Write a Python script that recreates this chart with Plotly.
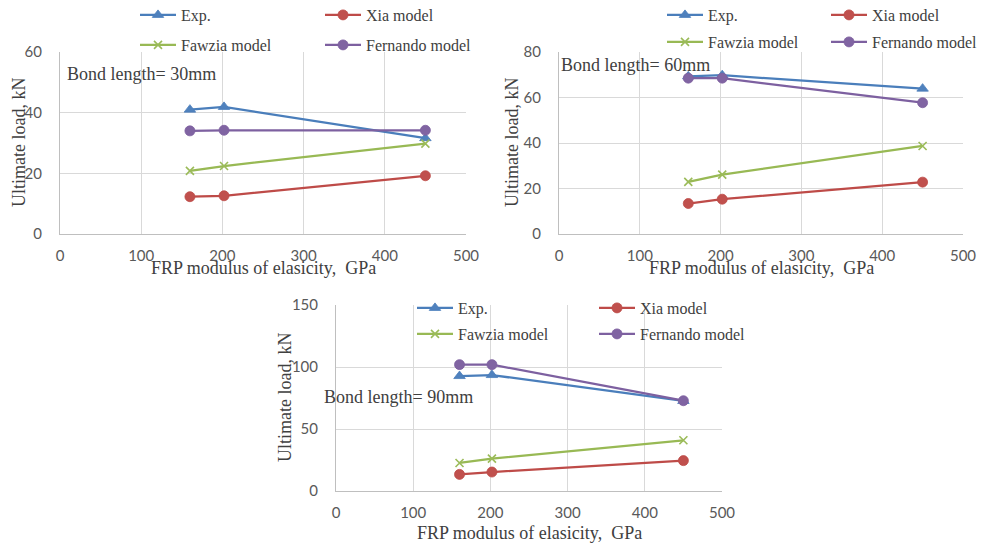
import plotly.graph_objects as go

W, H = 981, 545

modulus_gpa = [160, 202, 450]
series_names = ["Exp.", "Xia model", "Fawzia model", "Fernando model"]

# Bond length = 30 mm
exp_30 = [41.0, 41.9, 31.6]
xia_30 = [12.3, 12.6, 19.2]
fawzia_30 = [20.8, 22.4, 29.8]
fernando_30 = [34.0, 34.2, 34.2]

# Bond length = 60 mm
exp_60 = [69.3, 69.8, 63.9]
xia_60 = [13.4, 15.3, 22.8]
fawzia_60 = [22.9, 26.1, 38.7]
fernando_60 = [68.5, 68.5, 57.7]

# Bond length = 90 mm
exp_90 = [92.7, 93.5, 72.6]
xia_90 = [13.4, 15.3, 24.5]
fawzia_90 = [22.6, 26.1, 40.9]
fernando_90 = [101.9, 101.9, 72.8]

panel_titles = ["Bond length= 30mm", "Bond length= 60mm", "Bond length= 90mm"]
y_ranges = [[0, 60], [0, 80], [0, 150]]
y_dticks = [20, 20, 50]
x_range = [0, 500]
x_dtick = 100
x_title = "FRP modulus of elasicity,\u00a0 GPa"
y_title = "Ultimate load, kN"

panels = [
    [exp_30, xia_30, fawzia_30, fernando_30],
    [exp_60, xia_60, fawzia_60, fernando_60],
    [exp_90, xia_90, fawzia_90, fernando_90],
]

line_colors = ["#4A7EBB", "#BE4B48", "#98B954", "#7D60A0"]
marker_colors = ["#4F81BD", "#C0504D", "#9BBB59", "#8064A2"]
symbols = ["triangle-up", "circle", "x-thin", "circle"]
marker_sizes = [10, 10, 8, 10]

# plot-area pixel boxes (left, right, top, bottom)
boxes = [(60, 466, 52, 234), (559, 963, 52, 234), (336, 722, 305, 491)]

SERIF = "Liberation Serif, Times New Roman, serif"
SANS = "Lato, Liberation Sans, sans-serif"

fig = go.Figure()

for p, data in enumerate(panels):
    xa = "x" if p == 0 else f"x{p+1}"
    ya = "y" if p == 0 else f"y{p+1}"
    for s, vals in enumerate(data):
        leg_idx = 2 * p + (0 if s < 2 else 1) + 1
        leg = "legend" if leg_idx == 1 else f"legend{leg_idx}"
        sym_line = dict(width=1.6, color=marker_colors[s]) if symbols[s] == "x-thin" else dict(width=0.8, color=line_colors[s])
        fig.add_trace(go.Scatter(
            x=modulus_gpa, y=vals, name=series_names[s], mode="lines+markers",
            xaxis=xa, yaxis=ya, legend=leg,
            line=dict(color=line_colors[s], width=2.25),
            marker=dict(symbol=symbols[s], size=marker_sizes[s], color=marker_colors[s], line=sym_line),
        ))

layout = dict(
    width=W, height=H,
    margin=dict(l=0, r=0, t=0, b=0, autoexpand=False),
    paper_bgcolor="white", plot_bgcolor="white",
    font=dict(family=SERIF, size=16, color="#404040"),
    showlegend=True,
)

def axis_common():
    return dict(showgrid=True, gridcolor="#D9D9D9", gridwidth=1, zeroline=False,
                showline=True, linecolor="#BFBFBF", linewidth=1, ticks="",
                tickfont=dict(family=SANS, size=15, color="#595959"),
                fixedrange=True, automargin=False)

annotations = []
for p, (l, r, t, b) in enumerate(boxes):
    xk = "xaxis" if p == 0 else f"xaxis{p+1}"
    yk = "yaxis" if p == 0 else f"yaxis{p+1}"
    ya_name = "y" if p == 0 else f"y{p+1}"
    xa_name = "x" if p == 0 else f"x{p+1}"
    xd = axis_common()
    xd.update(domain=[l / W, r / W], range=x_range, dtick=x_dtick, tick0=0, anchor=ya_name,
              ticklabelstandoff=8)
    yd = axis_common()
    yd.update(domain=[1 - b / H, 1 - t / H], range=y_ranges[p], dtick=y_dticks[p], tick0=0, anchor=xa_name,
              ticklabelstandoff=14)
    layout[xk] = xd
    layout[yk] = yd

# legends: two rows per panel (line start x, row centre y, column spacing)
legend_pos = [
    (140, 15, 186), (140, 45, 186),
    (667, 15, 165), (667, 42, 165),
    (417, 308, 183), (417, 334, 183),
]
for i, (lx, ly, ew) in enumerate(legend_pos):
    key = "legend" if i == 0 else f"legend{i+1}"
    layout[key] = dict(
        x=(lx - 5) / W, y=1 - ly / H, xanchor="left", yanchor="middle",
        orientation="h", entrywidth=ew - 52, entrywidthmode="pixels",
        itemwidth=36, bgcolor="rgba(0,0,0,0)", borderwidth=0,
        font=dict(family=SERIF, size=16, color="#404040"),
        tracegroupgap=0,
    )

# panel annotations: bond length
bond_pos = [(65, 74), (559, 65), (322, 397)]
for p, (bx, by) in enumerate(bond_pos):
    annotations.append(dict(text=panel_titles[p], x=bx / W, y=1 - by / H, xref="paper", yref="paper",
                            xanchor="left", yanchor="middle", showarrow=False,
                            font=dict(family=SERIF, size=18, color="#404040")))

# axis titles
xt_pos = [(263, 268), (761, 268), (529, 533)]
yt_pos = [(19, 143), (512, 143), (285, 398)]
for p in range(3):
    annotations.append(dict(text=x_title, x=xt_pos[p][0] / W, y=1 - xt_pos[p][1] / H, xref="paper", yref="paper",
                            xanchor="center", yanchor="middle", showarrow=False,
                            font=dict(family=SERIF, size=18, color="#404040")))
    annotations.append(dict(text=y_title, x=yt_pos[p][0] / W, y=1 - yt_pos[p][1] / H, xref="paper", yref="paper",
                            xanchor="center", yanchor="middle", showarrow=False, textangle=-90,
                            font=dict(family=SERIF, size=18, color="#404040")))

layout["annotations"] = annotations
fig.update_layout(**layout)

fig.write_html("out.html", config={"displayModeBar": False},
               post_script="document.body.style.margin='0';document.body.style.overflow='hidden';")
